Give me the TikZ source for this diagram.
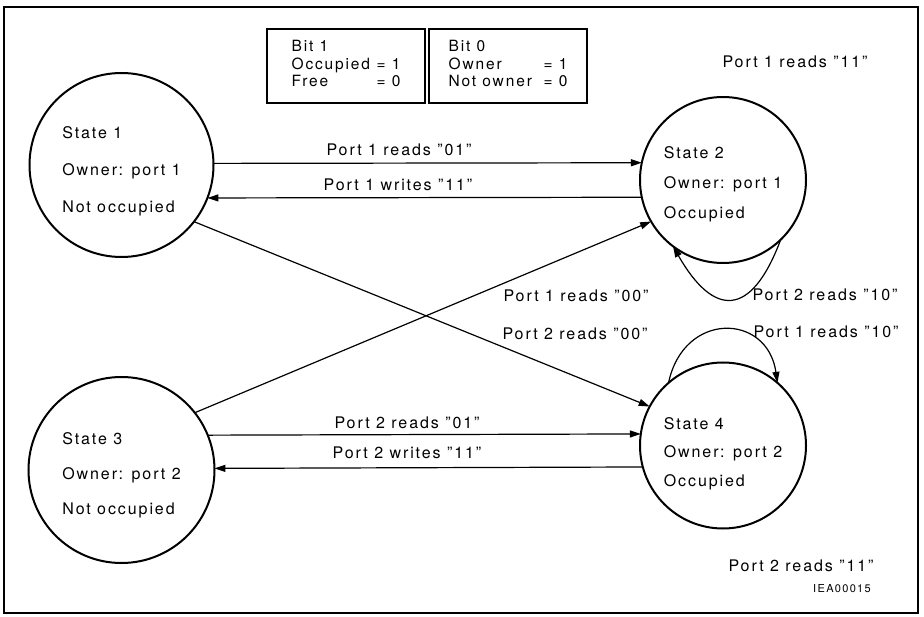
\documentclass[tikz,border=0pt]{standalone}
\usepackage{fontspec}
\setmainfont{TeX Gyre Heros}[LetterSpace=12]
\usetikzlibrary{arrows.meta}
\begin{document}
\begin{tikzpicture}[x=1pt,y=-1pt,
  state/.style={circle,draw,line width=2pt,inner sep=0pt,outer sep=0pt,align=left},
  conn/.style={line width=1.2pt,-{Triangle[length=11pt,width=7pt]}},
  lbl/.style={inner sep=0pt,font=\fontsize{16}{19}\selectfont},
  legend/.style={draw,line width=1.6pt,minimum width=158pt,minimum height=74pt,inner sep=0pt,font=\fontsize{15.5}{17.5}\selectfont}]
\useasboundingbox (0,0) rectangle (924,617);
\draw[line width=1.5pt] (4,7) rectangle (918,613);
% legend
\node[legend] (b1) at (346,66) {\begin{tabular}{@{}p{85pt}@{}l@{}}Bit 1&\\Occupied&= 1\\Free&= 0\end{tabular}};
\node[legend] (b2) at (508,66) {\begin{tabular}{@{}p{95pt}@{}l@{}}Bit 0&\\Owner&= 1\\Not owner&= 0\end{tabular}};
% states
\node[state,minimum size=184pt,font=\fontsize{16}{37}\selectfont] (s1) at (121.5,165) {\rule{0pt}{23.5pt}State 1\\Owner: port 1\\Not occupied};
\node[state,minimum size=166pt,font=\fontsize{16}{30}\selectfont] (s2) at (723,180) {\rule{0pt}{19.5pt}State 2\\Owner: port 1\\Occupied};
\node[state,minimum size=186pt,font=\fontsize{16}{35}\selectfont] (s3) at (121.5,470) {\rule{0pt}{21.5pt}State 3\\Owner: port 2\\Not occupied};
\node[state,minimum size=166pt,font=\fontsize{16}{28.5}\selectfont] (s4) at (723,445.5) {\rule{0pt}{27.5pt}State 4\\Owner: port 2\\Occupied};
% connectors
\draw[conn] (s1.1.2) -- (s2.168.2);
\draw[conn] (s2.192.5) -- (s1.-21);
\draw[conn] (s3.22.1) -- (s4.172.7);
\draw[conn] (s4.195.7) -- (s3.1.2);
\draw[conn] (s1.-38) -- (s4.152);
\draw[conn] (s3.38) -- (s2.210);
\draw[conn] (s2.-46) .. controls +(-30,80) and +(40,70) .. (s2.-127);
\draw[conn] (s4.131) .. controls +(15,-72) and +(-10,-70) .. (s4.49);
% labels
\node[lbl] (l1) at (399,150) {Port 1 reads "01"};
\node[lbl] (l2) at (398,185) {Port 1 writes "11"};
\node[lbl] (l3) at (407,423) {Port 2 reads "01"};
\node[lbl] (l4) at (407,453) {Port 2 writes "11"};
\node[lbl] (l5) at (576,296) {Port 1 reads "00"};
\node[lbl] (l6) at (575,334) {Port 2 reads "00"};
\node[lbl] (l7) at (825,295) {Port 2 reads "10"};
\node[lbl] (l8) at (826,332) {Port 1 reads "10"};
\node[lbl] (l9) at (795,62) {Port 1 reads "11"};
\node[lbl] (l10) at (801,566) {Port 2 reads "11"};
\node[inner sep=0pt,font=\fontsize{11}{13}\selectfont] (id) at (842,589) {IEA00015};
\end{tikzpicture}
\end{document}
